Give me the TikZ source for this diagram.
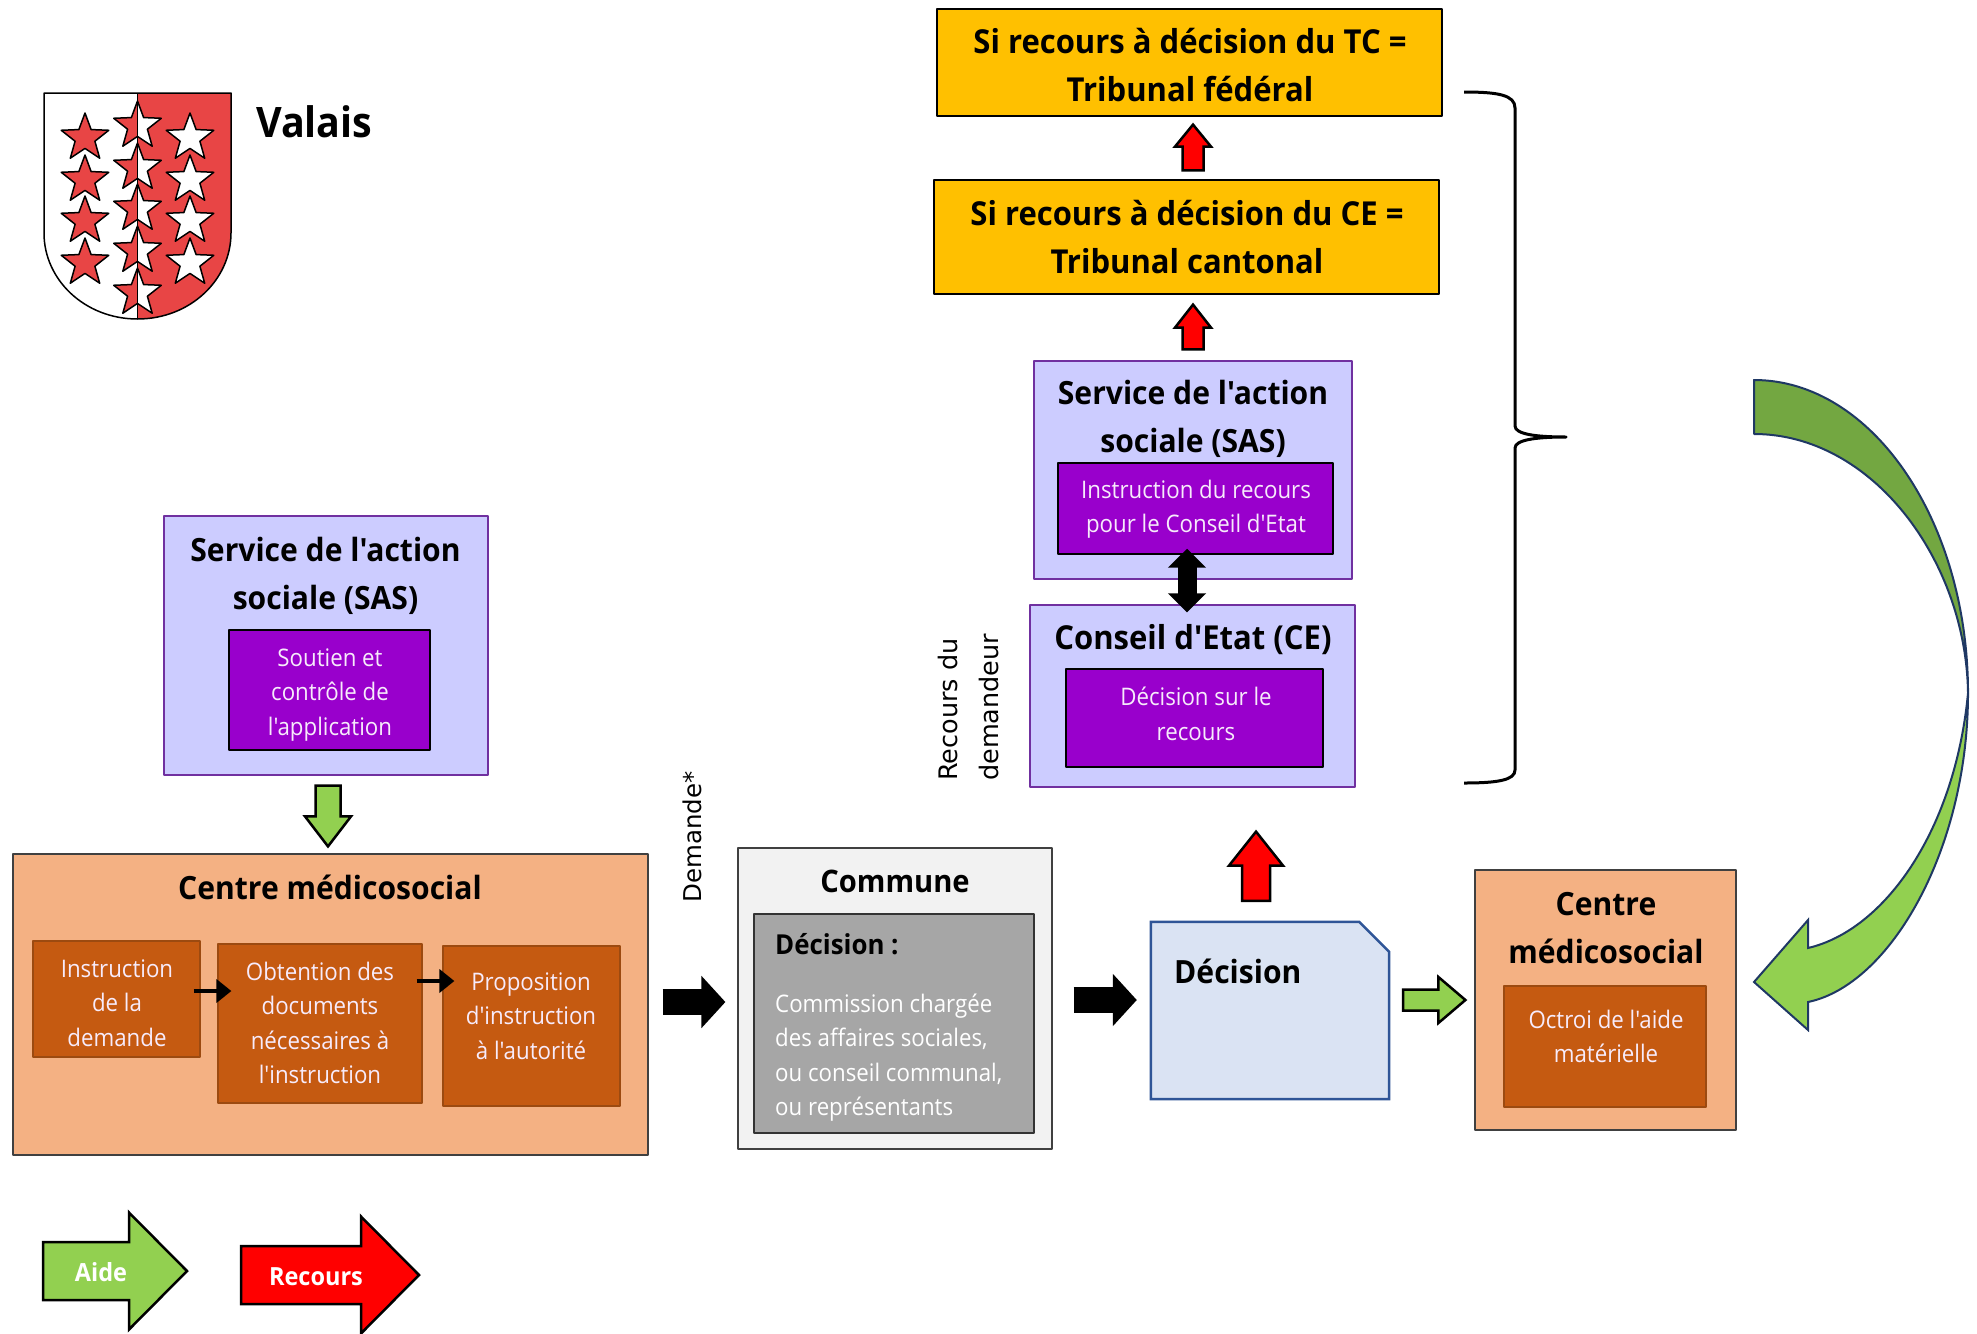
\documentclass[tikz,border=0pt]{standalone}
\usepackage{fontspec}
\newfontfamily\bodyfont[FakeStretch=0.92,BoldFeatures={FakeStretch=0.94}]{Open Sans}
\newfontfamily\sidefont{DejaVu Sans}
\usetikzlibrary{calc,arrows.meta,shapes.geometric}
\definecolor{peach}{HTML}{F4B183}
\definecolor{rust}{HTML}{C55A11}
\definecolor{rustline}{HTML}{9C4A10}
\definecolor{lavender}{HTML}{CCCCFF}
\definecolor{violet}{HTML}{9900CC}
\definecolor{violetline}{HTML}{7030A0}
\definecolor{amber}{HTML}{FFC000}
\definecolor{paper}{HTML}{DAE3F3}
\definecolor{paperline}{HTML}{2F5597}
\definecolor{aidegreen}{HTML}{92D050}
\definecolor{bendgreen}{HTML}{73A741}
\definecolor{bendline}{HTML}{1F3864}
\definecolor{shieldred}{HTML}{E84545}
\newcommand{\titlefont}{\bodyfont\fontsize{32}{48}\selectfont\bfseries}
\newcommand{\smallfont}{\bodyfont\fontsize{24.2}{34.5}\selectfont}
\tikzset{
	boxpeach/.style={draw=black!75, line width=1.2pt, fill=peach, inner sep=0pt},
	boxrust/.style={draw=rustline, line width=1.2pt, fill=rust, inner sep=0pt},
	boxlav/.style={draw=violetline, line width=1.2pt, fill=lavender, inner sep=0pt},
	boxviolet/.style={draw=black, line width=1.4pt, fill=violet, inner sep=0pt},
	boxamber/.style={draw=black, line width=1.2pt, fill=amber, inner sep=0pt},
	titletext/.style={font=\titlefont, align=center, inner sep=0pt, text=black},
	smalltext/.style={font=\smallfont, align=center, inner sep=0pt, text=white!92!violet},
	sidetext/.style={font=\fontsize{25.5}{41}\selectfont\sidefont, rotate=90, inner sep=0pt, align=left},
	redarrow/.style={draw=black, line width=2.5pt, fill=red, line join=miter},
	greenarrow/.style={draw=black, line width=2.5pt, fill=aidegreen, line join=miter},
	blackarrow/.style={line width=26pt, {-{Triangle[length=24pt,width=51pt]}}},
	tinyarrow/.style={line width=4.5pt, {-{Triangle[length=15pt,width=23pt]}}},
	starred/.style={star, star points=5, star point ratio=2.4, minimum size=50pt, inner sep=0pt, draw=black, line width=1.5pt, fill=shieldred},
	starwhite/.style={starred, fill=white},
	starhalf/.style={starred, path picture={\fill[white] (path picture bounding box.north) rectangle (path picture bounding box.south east);}}
}
% block arrow: style, tail, tip, half shaft, half head, head length
\newcommand{\blockarrow}[6]{
	\path ($(#3)!#6!(#2)$) coordinate (neck);
	\draw[#1] ($(#2)!#4!90:(#3)$)--($(neck)!#4!90:(#3)$)--($(neck)!#5!90:(#3)$)--(#3)--($(neck)!#5!-90:(#3)$)--($(neck)!#4!-90:(#3)$)--($(#2)!#4!-90:(#3)$)--cycle;
}
\begin{document}
\begin{tikzpicture}[x=1pt, y=-1pt, line join=round, >=stealth]
	\useasboundingbox (0,0) rectangle (1977,1333);
	% shield
	\fill[white] (44,93)--(137.5,93)--(137.5,319) .. controls (85,319) and (44,280) .. (44,233)--cycle;
	\fill[shieldred] (137.5,93)--(231,93)--(231,233) .. controls (231,280) and (190,319) .. (137.5,319)--cycle;
	\foreach \y/\n in {138/1,180/2,221/3,263/4}{
		\node[starred] (starl\n) at (85,\y) {};
		\node[starwhite] (starr\n) at (190,\y) {};
	}
	\foreach \y/\n in {126/1,168/2,209/3,251/4,293/5}
		\node[starhalf] (starm\n) at (137.5,\y) {};
	\draw[line width=1.5pt] (137.5,93)--(137.5,319);
	\draw[line width=1.5pt] (44,93)--(231,93)--(231,233) .. controls (231,280) and (190,319) .. (137.5,319) .. controls (85,319) and (44,280) .. (44,233)--cycle;
	\node[titletext, font=\bodyfont\fontsize{42}{48}\selectfont\bfseries, anchor=west] (valais) at (256,122) {Valais};
	% left side
	\node[boxlav, minimum width=324, minimum height=259] (sasleft) at (326,645.5) {};
	\node[titletext] (sasleftname) at (325.5,575.5) {Service de l'action\\sociale (SAS)};
	\node[boxviolet, minimum width=201, minimum height=120] (sasleftjob) at (329.5,690) {};
	\node[smalltext] (sasleftjobtext) at (330,695) {Soutien et\\contrôle de\\l'application};
	\node[boxpeach, minimum width=635, minimum height=301] (cmsleft) at (330.5,1004.5) {};
	\node[titletext] (cmslefttitle) at (330,887) {Centre médicosocial};
	\node[boxrust, minimum width=167, minimum height=116] (instr) at (116.5,999) {};
	\node[smalltext] (instrtext) at (117,1003) {Instruction\\de la\\demande};
	\node[boxrust, minimum width=204, minimum height=159] (docs) at (320,1023.5) {};
	\node[smalltext] (docstext) at (320,1023) {Obtention des\\documents\\nécessaires à\\l'instruction};
	\node[boxrust, minimum width=177, minimum height=160] (propo) at (531.5,1026) {};
	\node[smalltext] (propotext) at (531,1016) {Proposition\\d'instruction\\à l'autorité};
	\draw[tinyarrow] ([shift={(-7,-8)}]instr.east)--([shift={(14,-32.5)}]docs.west);
	\draw[tinyarrow] ([shift={(-6,-42.5)}]docs.east)--([shift={(12,-45)}]propo.west);
	\blockarrow{greenarrow}{[xshift=2,yshift=-10]sasleft.south}{[xshift=-2.5,yshift=7]cmsleft.north}{12.5pt}{23pt}{30pt}
	\node[sidetext, font=\fontsize{24.5}{41}\selectfont\sidefont] (demande) at (692,837) {Demande*};
	% commune
	\node[draw=black!75, line width=1.2pt, fill=black!5, inner sep=0pt, minimum width=314, minimum height=301] (commune) at (895,998.5) {};
	\node[titletext, font=\bodyfont\fontsize{31}{48}\selectfont\bfseries] (communename) at (895,881) {Commune};
	\node[draw=black!80, line width=1.4pt, fill=black!35, inner sep=0pt, minimum width=280, minimum height=219] (communejob) at (894,1023.5) {};
	\node[titletext, font=\bodyfont\fontsize{27.5}{48}\selectfont\bfseries, anchor=west] (decisionhead) at (775,944) {Décision :};
	\node[smalltext, text=white, align=left, anchor=west] (communetext) at (775,1057.5) {Commission chargée\\des affaires sociales,\\ou conseil communal,\\ou représentants};
	\draw[blackarrow] ([xshift=14]cmsleft.east |- 0,1002)--([xshift=-12]commune.west |- 0,1002);
	% decision
	\node[draw=none, inner sep=0pt, minimum width=238, minimum height=177] (decision) at (1270,1010.5) {};
	\draw[line width=2.5pt, draw=paperline, fill=paper, line join=miter] (decision.south west)--(decision.north west)--([xshift=-30]decision.north east)--([yshift=-30]decision.north east)--(decision.south east)--cycle;
	\node[titletext, anchor=west] (decisionname) at (1174,971) {Décision};
	\draw[blackarrow] ([xshift=21]commune.east |- 0,1000)--([xshift=-14]decision.west |- 0,1000);
	% right side
	\node[boxpeach, minimum width=261, minimum height=260] (cmsright) at (1605.5,1000) {};
	\node[titletext] (cmsrighttitle) at (1606,928) {Centre\\médicosocial};
	\node[boxrust, minimum width=202, minimum height=121] (octroi) at (1605,1046.5) {};
	\node[smalltext] (octroitext) at (1606,1036.5) {Octroi de l'aide\\matérielle};
	\blockarrow{greenarrow}{[xshift=14]decision.east |- cmsright.west}{[xshift=-9]cmsright.west}{10.5pt}{23pt}{27pt}
	% upper boxes
	\node[boxlav, minimum width=325, minimum height=182] (ce) at (1192.5,696) {};
	\node[titletext, font=\bodyfont\fontsize{33}{48}\selectfont\bfseries] (cetitle) at (1193,640) {Conseil d'Etat (CE)};
	\node[boxviolet, minimum width=257, minimum height=98] (cejob) at (1194.5,718) {};
	\node[smalltext] (cejobtext) at (1196,714) {Décision sur le\\recours};
	\blockarrow{redarrow}{[xshift=-14,yshift=21]decision.north}{[xshift=63.5,yshift=-44]ce.south}{14pt}{27pt}{34pt}
	\node[boxlav, minimum width=318, minimum height=218] (sastop) at (1193,470) {};
	\node[titletext] (sastoptitle) at (1193,418.5) {Service de l'action\\sociale (SAS)};
	\node[boxviolet, minimum width=275, minimum height=91] (sastopjob) at (1195.5,508.5) {};
	\node[smalltext] (sastopjobtext) at (1196,509) {Instruction du recours\\pour le Conseil d'Etat};
	\draw[blackarrow, line width=19pt, {Triangle[length=19pt,width=37pt]}-{Triangle[length=19pt,width=37pt]}] ([xshift=-8.5,yshift=6]sastopjob.south)--([xshift=-5.5,yshift=-8]ce.north);
	\node[sidetext, anchor=south west] (recours) at (999,781) {Recours du\\demandeur};
	\node[boxamber, minimum width=505, minimum height=114] (cantonal) at (1186.5,237) {};
	\node[titletext, font=\bodyfont\fontsize{33}{48}\selectfont\bfseries] (cantonaltext) at (1187,237) {Si recours à décision du CE =\\Tribunal cantonal};
	\node[boxamber, minimum width=505, minimum height=107] (federal) at (1189.5,62.5) {};
	\node[titletext, font=\bodyfont\fontsize{33}{48}\selectfont\bfseries] (federaltext) at (1190,65) {Si recours à décision du TC =\\Tribunal fédéral};
	\blockarrow{redarrow}{[xshift=6.5,yshift=9]cantonal.north}{[xshift=3.5,yshift=-8]federal.south}{10.5pt}{18pt}{22pt}
	\blockarrow{redarrow}{[yshift=11]sastop.north}{[xshift=6.5,yshift=-10]cantonal.south}{10.5pt}{18pt}{23pt}
	% brace
	\draw[line width=3pt] (1464,92) .. controls (1498,92) and (1515,95) .. (1515,108)--(1515,426) .. controls (1515,434) and (1535,437) .. (1566,437) .. controls (1535,437) and (1515,440) .. (1515,448)--(1515,770) .. controls (1515,780) and (1498,783) .. (1464,783);
	% curved arrow
	\coordinate (bendtop) at (1754,380);
	\coordinate (bendlow) at (1754,434);
	\coordinate (bendmid) at (1968,693);
	\coordinate (bendtip) at (1754,982);
	\draw[draw=bendline, line width=2pt, fill=bendgreen] (bendtop) .. controls (1872,380) and (1968,521) .. (bendmid) .. controls (1966,560) and (1872,434) .. (bendlow)--cycle;
	\draw[draw=bendline, line width=2pt, fill=aidegreen, line join=miter] (bendmid) .. controls (1968,850) and (1890,985) .. (1808,1002)--(1808,1030)--(bendtip)--(1808,920)--(1808,948) .. controls (1885,930) and (1955,830) .. (bendmid);
	% legend
	\coordinate (aidefrom) at (43,1271);
	\coordinate (aideto) at (187,1271);
	\blockarrow{greenarrow}{aidefrom}{aideto}{29pt}{58.5pt}{58pt}
	\node[font=\bodyfont\fontsize{25}{30}\selectfont\bfseries, text=white, inner sep=0pt] (aidetext) at (101,1272) {Aide};
	\coordinate (recoursfrom) at (241,1275);
	\coordinate (recoursto) at (419,1275);
	\blockarrow{redarrow}{recoursfrom}{recoursto}{29pt}{58.5pt}{58pt}
	\node[font=\bodyfont\fontsize{25}{30}\selectfont\bfseries, text=white, inner sep=0pt] (recourstext) at (316,1277) {Recours};
\end{tikzpicture}
\end{document}
